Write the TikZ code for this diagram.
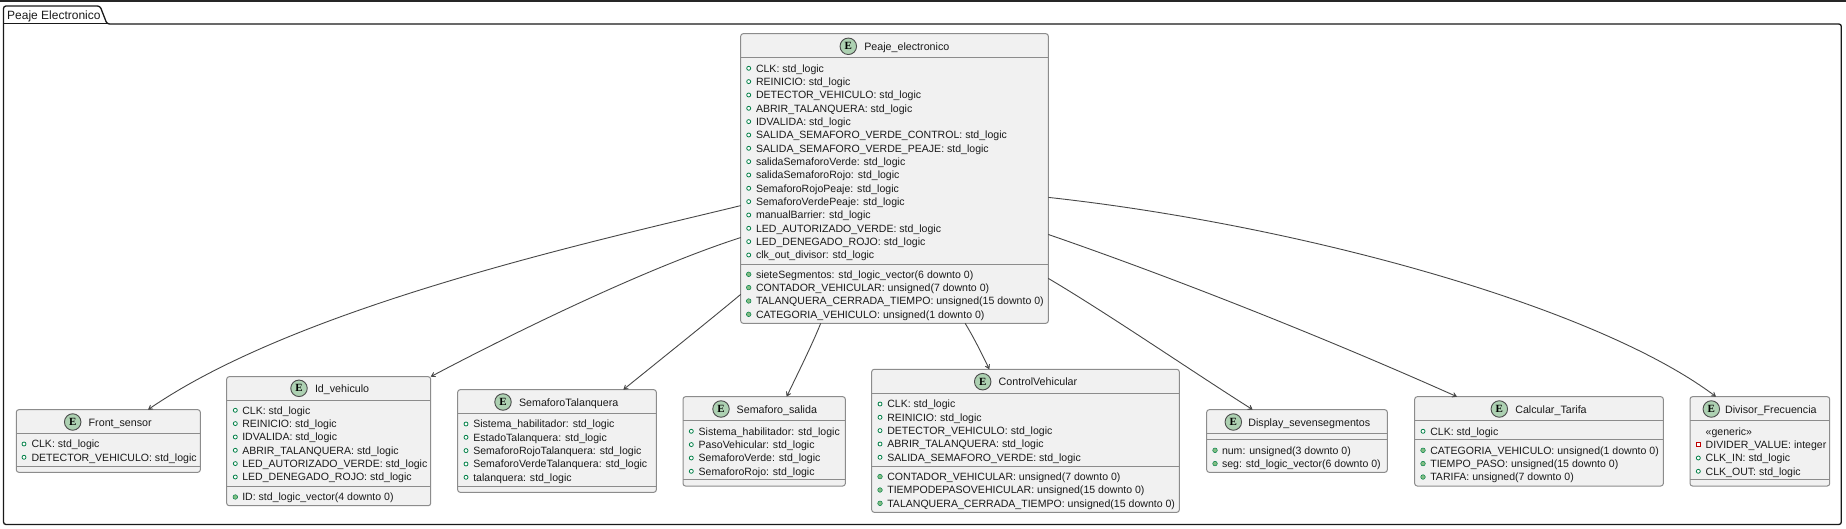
\documentclass[tikz,border=0pt]{standalone}
\usepackage{fontspec}
\setmainfont{Liberation Sans}
\newfontfamily\badgefont{Liberation Serif}
\usetikzlibrary{arrows.meta}
\definecolor{boxfill}{HTML}{F1F1F1}
\definecolor{boxline}{HTML}{8C8C8C}
\definecolor{iconline}{HTML}{038048}
\definecolor{iconfill}{HTML}{84BE84}
\definecolor{badge}{HTML}{ADD1B2}
\definecolor{ink}{HTML}{1A1A1A}
\tikzset{
  x=1pt,y=-1pt,
  umlbox/.style={draw=boxline,fill=boxfill,line width=1pt,rounded corners=2.5pt,inner sep=0,outer sep=0},
  sepline/.style={draw=boxline,line width=1pt},
  rowtext/.style={anchor=base west,inner sep=0,outer sep=0,text=ink,font=\fontsize{10.55}{14}\selectfont},
  titletext/.style={anchor=base west,inner sep=0,outer sep=0,text=ink,font=\fontsize{10.7}{14}\selectfont},
  badgeE/.style={circle,draw=black!70,fill=badge,line width=0.9pt,minimum size=16.5pt,inner sep=0,text=black,font=\badgefont\bfseries\fontsize{11}{11}\selectfont},
  conn/.style={draw=black!72,line width=0.9pt,-{Stealth[length=7pt,width=8.5pt,inset=4.6pt]}},
}
\newcommand{\umlbox}[5]{% name, x1,y1,x2,y2
  \pgfmathsetmacro{\bw}{#4-#2}\pgfmathsetmacro{\bh}{#5-#3}
  \node[umlbox,minimum width=\bw pt,minimum height=\bh pt] (#1) at ({(#2+#4)/2},{(#3+#5)/2}) {};
}
\newcommand{\umlhead}[5]{% name, badge x, y, title x, title
  \node[badgeE] (#1e) at (#2,#3) {E};
  \node[titletext] (#1t) at (#4,#3+4) {#5};
}
\newcommand{\umlsep}[4]{\draw[sepline] (#1,#3) -- (#2,#3);\draw[sepline] (#1,#4) -- (#2,#4);}
\newcommand{\pubrow}[5]{% name, icon x, text x, y, text
  \fill[white] (#2,#4) circle (2pt);\draw[iconline,line width=0.8pt] (#2,#4) circle (2pt);
  \node[rowtext] (#1) at (#3,#4+3.9) {#5};
}
\newcommand{\solrow}[5]{%
  \fill[iconfill] (#2,#4) circle (2.3pt);\draw[iconline,line width=0.5pt] (#2,#4) circle (2.3pt);
  \node[rowtext] (#1) at (#3,#4+3.9) {#5};
}
\begin{document}
\begin{tikzpicture}
\useasboundingbox (0,0) rectangle (1846,529);
\fill[white] (0,0) rectangle (1846,529);
\draw[black!85,line width=2.4pt] (0,1) -- (1846,1);
% package
\node[inner sep=0,outer sep=0,minimum size=0pt] (pkgtl) at (3.5,24) {};
\node[inner sep=0,outer sep=0,minimum size=0pt] (pkgbr) at (1841.3,524.5) {};
\draw[black!90,line width=1.3pt,rounded corners=2.5pt] (pkgtl.center) -- (3.5,6) -- (100,6) -- (107,24) -- (1841.3,24) -- (pkgbr.center) -- (3.5,524.5) -- cycle;
\draw[black!90,line width=1pt] (3.5,24) -- (107,24);
\node[anchor=base west,inner sep=0,text=ink,font=\fontsize{12}{14}\selectfont] (pkgname) at (7,19.3) {Peaje Electronico};
% Peaje_electronico
\umlbox{peaje}{740.7}{33.7}{1048.3}{323.3}
\umlhead{peaje}{848.3}{46.3}{864.3}{Peaje\_electronico}
\umlsep{740.7}{1048.3}{58}{264.3}
\pubrow{p1}{748.7}{756}{68.3}{CLK: std\_logic}
\pubrow{p2}{748.7}{756}{81.6}{REINICIO: std\_logic}
\pubrow{p3}{748.7}{756}{95}{DETECTOR\_VEHICULO: std\_logic}
\pubrow{p4}{748.7}{756}{108.3}{ABRIR\_TALANQUERA: std\_logic}
\pubrow{p5}{748.7}{756}{121.6}{IDVALIDA: std\_logic}
\pubrow{p6}{748.7}{756}{135}{SALIDA\_SEMAFORO\_VERDE\_CONTROL: std\_logic}
\pubrow{p7}{748.7}{756}{148.3}{SALIDA\_SEMAFORO\_VERDE\_PEAJE: std\_logic}
\pubrow{p8}{748.7}{756}{161.6}{salidaSemaforoVerde: std\_logic}
\pubrow{p9}{748.7}{756}{175}{salidaSemaforoRojo: std\_logic}
\pubrow{p10}{748.7}{756}{188.3}{SemaforoRojoPeaje: std\_logic}
\pubrow{p11}{748.7}{756}{201.6}{SemaforoVerdePeaje: std\_logic}
\pubrow{p12}{748.7}{756}{215}{manualBarrier: std\_logic}
\pubrow{p13}{748.7}{756}{228.3}{LED\_AUTORIZADO\_VERDE: std\_logic}
\pubrow{p14}{748.7}{756}{241.6}{LED\_DENEGADO\_ROJO: std\_logic}
\pubrow{p15}{748.7}{756}{255}{clk\_out\_divisor: std\_logic}
\solrow{p16}{748.7}{756}{274.3}{sieteSegmentos: std\_logic\_vector(6 downto 0)}
\solrow{p17}{748.7}{756}{287.6}{CONTADOR\_VEHICULAR: unsigned(7 downto 0)}
\solrow{p18}{748.7}{756}{301}{TALANQUERA\_CERRADA\_TIEMPO: unsigned(15 downto 0)}
\solrow{p19}{748.7}{756}{314.3}{CATEGORIA\_VEHICULO: unsigned(1 downto 0)}
% Front_sensor
\umlbox{front}{16.3}{409.7}{200.3}{472.3}
\umlhead{front}{72.7}{422}{88.7}{Front\_sensor}
\umlsep{16.3}{200.3}{433.7}{466.7}
\pubrow{f1}{24}{31.5}{444}{CLK: std\_logic}
\pubrow{f2}{24}{31.5}{457.3}{DETECTOR\_VEHICULO: std\_logic}
% Id_vehiculo
\umlbox{idv}{226.7}{376.7}{430.7}{505.7}
\umlhead{idv}{299}{388.3}{315}{Id\_vehiculo}
\umlsep{226.7}{430.7}{400.7}{486.7}
\pubrow{i1}{235.3}{242.3}{410.3}{CLK: std\_logic}
\pubrow{i2}{235.3}{242.3}{423.6}{REINICIO: std\_logic}
\pubrow{i3}{235.3}{242.3}{437}{IDVALIDA: std\_logic}
\pubrow{i4}{235.3}{242.3}{450.3}{ABRIR\_TALANQUERA: std\_logic}
\pubrow{i5}{235.3}{242.3}{463.6}{LED\_AUTORIZADO\_VERDE: std\_logic}
\pubrow{i6}{235.3}{242.3}{477}{LED\_DENEGADO\_ROJO: std\_logic}
\solrow{i7}{235.3}{242.3}{497}{ID: std\_logic\_vector(4 downto 0)}
% SemaforoTalanquera
\umlbox{talan}{457.7}{389.7}{656.3}{492.3}
\umlhead{talan}{503}{402}{519}{SemaforoTalanquera}
\umlsep{457.7}{656.3}{413.3}{486.3}
\pubrow{t1}{466}{473.3}{424}{Sistema\_habilitador: std\_logic}
\pubrow{t2}{466}{473.3}{437.3}{EstadoTalanquera: std\_logic}
\pubrow{t3}{466}{473.3}{450.6}{SemaforoRojoTalanquera: std\_logic}
\pubrow{t4}{466}{473.3}{464}{SemaforoVerdeTalanquera: std\_logic}
\pubrow{t5}{466}{473.3}{477.3}{talanquera: std\_logic}
% Semaforo_salida
\umlbox{salida}{683}{396.7}{845.3}{486}
\umlhead{salida}{721}{409}{736.7}{Semaforo\_salida}
\umlsep{683}{845.3}{420.3}{479.3}
\pubrow{s1}{691.3}{698.7}{431.3}{Sistema\_habilitador: std\_logic}
\pubrow{s2}{691.3}{698.7}{444.6}{PasoVehicular: std\_logic}
\pubrow{s3}{691.3}{698.7}{458}{SemaforoVerde: std\_logic}
\pubrow{s4}{691.3}{698.7}{471.3}{SemaforoRojo: std\_logic}
% ControlVehicular
\umlbox{control}{871.7}{369.3}{1179.3}{512.3}
\umlhead{control}{982.7}{381.7}{998.7}{ControlVehicular}
\umlsep{871.7}{1179.3}{393.7}{466.7}
\pubrow{c1}{880}{887.3}{404}{CLK: std\_logic}
\pubrow{c2}{880}{887.3}{417.3}{REINICIO: std\_logic}
\pubrow{c3}{880}{887.3}{430.6}{DETECTOR\_VEHICULO: std\_logic}
\pubrow{c4}{880}{887.3}{444}{ABRIR\_TALANQUERA: std\_logic}
\pubrow{c5}{880}{887.3}{457.3}{SALIDA\_SEMAFORO\_VERDE: std\_logic}
\solrow{c6}{880}{887.3}{476.6}{CONTADOR\_VEHICULAR: unsigned(7 downto 0)}
\solrow{c7}{880}{887.3}{490}{TIEMPODEPASOVEHICULAR: unsigned(15 downto 0)}
\solrow{c8}{880}{887.3}{503.3}{TALANQUERA\_CERRADA\_TIEMPO: unsigned(15 downto 0)}
% Display_sevensegmentos
\umlbox{disp}{1206.7}{409.7}{1387.3}{472.3}
\umlhead{disp}{1233.3}{422}{1248.3}{Display\_sevensegmentos}
\umlsep{1206.7}{1387.3}{433.7}{439.7}
\solrow{d1}{1215}{1222}{450.3}{num: unsigned(3 downto 0)}
\solrow{d2}{1215}{1222}{463.6}{seg: std\_logic\_vector(6 downto 0)}
% Calcular_Tarifa
\umlbox{calc}{1414.7}{396.7}{1663.3}{486}
\umlhead{calc}{1499.3}{409}{1515.3}{Calcular\_Tarifa}
\umlsep{1414.7}{1663.3}{420.3}{439.7}
\pubrow{k1}{1423}{1430.3}{431.3}{CLK: std\_logic}
\solrow{k2}{1423}{1430.3}{450.3}{CATEGORIA\_VEHICULO: unsigned(1 downto 0)}
\solrow{k3}{1423}{1430.3}{463.6}{TIEMPO\_PASO: unsigned(15 downto 0)}
\solrow{k4}{1423}{1430.3}{477}{TARIFA: unsigned(7 downto 0)}
% Divisor_Frecuencia
\umlbox{divf}{1690}{396.7}{1829.7}{486}
\umlhead{divf}{1711.3}{409}{1725}{Divisor\_Frecuencia}
\umlsep{1690}{1829.7}{420.3}{479.3}
\node[rowtext] (v0) at (1705.7,435.2) {«generic»};
\draw[red!75!black,fill=white,line width=0.8pt] (1696,442) rectangle (1700.6,446.6);
\node[rowtext] (v1) at (1705.7,448.5) {DIVIDER\_VALUE: integer};
\pubrow{v2}{1698.3}{1705.7}{458}{CLK\_IN: std\_logic}
\pubrow{v3}{1698.3}{1705.7}{471.3}{CLK\_OUT: std\_logic}
% connectors
\draw[conn] (peaje.190.5) .. controls (600,240) and (300,305) .. ([xshift=39.7pt]front.north);
\draw[conn] (peaje.201.25) .. controls (640,270) and (500,340) .. (idv.north east);
\draw[conn] (peaje.217.92) .. controls (710,320) and (660,360) .. ([xshift=66.3pt]talan.north);
\draw[conn] (peaje.243.3) .. controls (812,345) and (797,375) .. ([xshift=22.5pt]salida.north);
\draw[conn] (peaje.296.5) .. controls (974,338) and (982,354) .. ([xshift=-36.2pt]control.north);
\draw[conn] (peaje.327.63) .. controls (1110,315) and (1190,370) .. ([xshift=-44.3pt]disp.north);
\draw[conn] (peaje.340.72) .. controls (1180,280) and (1330,340) .. ([xshift=-82pt]calc.north);
\draw[conn] (peaje.353.88) .. controls (1300,225) and (1595,306) .. ([xshift=-43.85pt]divf.north);
\end{tikzpicture}
\end{document}
